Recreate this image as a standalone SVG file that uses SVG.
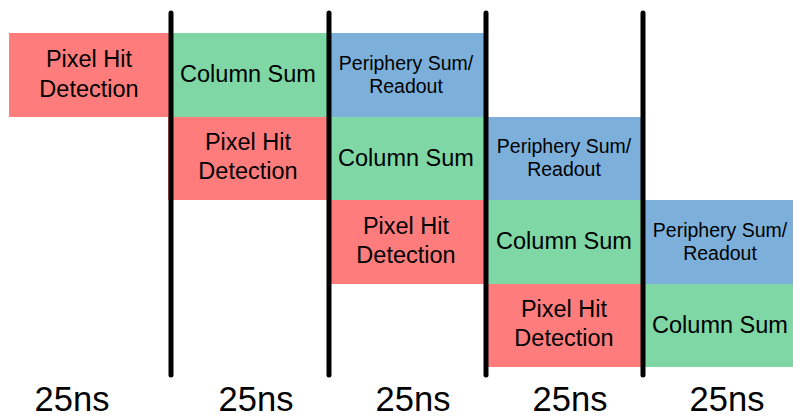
<svg xmlns="http://www.w3.org/2000/svg" width="793" height="419" viewBox="0 0 793 419">
<style>
.red{fill:#FF7C7C}
.green{fill:#7ED7A4}
.blue{fill:#7CB0DA}
text{font-family:"Liberation Sans",Arial,sans-serif;fill:#000;text-anchor:middle}
.big{font-size:23.5px}
.small{font-size:19.5px}
.time{font-size:34.5px}
.sep{stroke:#000;stroke-width:5;stroke-linecap:round;fill:none}
</style>
<rect width="793" height="419" fill="#fff"/>
<g id="row1-pixel"><rect class="red" x="9" y="33" width="162" height="84"/><text class="big" x="89" y="67">Pixel Hit</text><text class="big" x="89" y="97">Detection</text></g>
<g id="row1-column"><rect class="green" x="171" y="33" width="158" height="84"/><text class="big" x="248" y="82">Column Sum</text></g>
<g id="row1-periphery"><rect class="blue" x="329" y="33" width="157" height="84"/><text class="small" x="406" y="70">Periphery Sum/</text><text class="small" x="406" y="93">Readout</text></g>
<g id="row2-pixel"><rect class="red" x="168" y="117" width="161" height="83"/><text class="big" x="248" y="150">Pixel Hit</text><text class="big" x="248" y="179">Detection</text></g>
<g id="row2-column"><rect class="green" x="329" y="117" width="157" height="83"/><text class="big" x="406" y="166">Column Sum</text></g>
<g id="row2-periphery"><rect class="blue" x="486" y="117" width="157" height="83"/><text class="small" x="564" y="153">Periphery Sum/</text><text class="small" x="564" y="176">Readout</text></g>
<g id="row3-pixel"><rect class="red" x="329" y="200" width="157" height="84"/><text class="big" x="406" y="234">Pixel Hit</text><text class="big" x="406" y="263">Detection</text></g>
<g id="row3-column"><rect class="green" x="486" y="200" width="157" height="84"/><text class="big" x="564" y="249">Column Sum</text></g>
<g id="row3-periphery"><rect class="blue" x="643" y="200" width="150" height="84"/><text class="small" x="720" y="237">Periphery Sum/</text><text class="small" x="720" y="260">Readout</text></g>
<g id="row4-pixel"><rect class="red" x="486" y="284" width="157" height="83"/><text class="big" x="564" y="317">Pixel Hit</text><text class="big" x="564" y="346">Detection</text></g>
<g id="row4-column"><rect class="green" x="643" y="284" width="150" height="83"/><text class="big" x="720" y="333">Column Sum</text></g>
<g id="connectors">
<line class="sep" x1="171" y1="13" x2="171" y2="375"/>
<line class="sep" x1="329" y1="13" x2="329" y2="375"/>
<line class="sep" x1="486" y1="13" x2="486" y2="375"/>
<line class="sep" x1="643" y1="13" x2="643" y2="375"/>
</g>
<g id="time-labels">
<text class="time" x="72" y="411">25ns</text>
<text class="time" x="256" y="411">25ns</text>
<text class="time" x="413" y="411">25ns</text>
<text class="time" x="570" y="411">25ns</text>
<text class="time" x="727" y="411">25ns</text>
</g>
</svg>
